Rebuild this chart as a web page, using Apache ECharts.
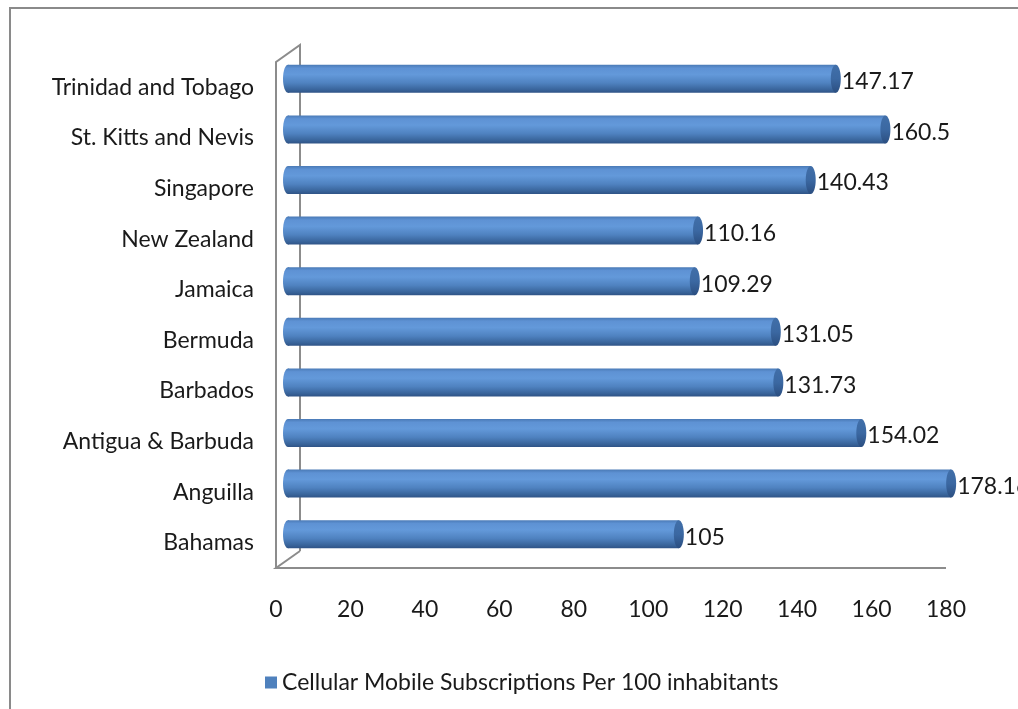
<!DOCTYPE html>
<html>
<head>
<meta charset="utf-8">
<script src="https://cdn.jsdelivr.net/npm/echarts@6/dist/echarts.min.js"></script>
<style>
  html, body { margin: 0; padding: 0; background: #fff; }
  #chart { width: 1018px; height: 709px; }
</style>
</head>
<body>
<div id="chart"></div>
<script>
// Countries, bottom to top
const countries = [
  'Bahamas', 'Anguilla', 'Antigua & Barbuda', 'Barbados', 'Bermuda',
  'Jamaica', 'New Zealand', 'Singapore', 'St. Kitts and Nevis', 'Trinidad and Tobago'
];
// Cellular mobile subscriptions per 100 inhabitants
const subscriptions = [105, 178.16, 154.02, 131.73, 131.05, 109.29, 110.16, 140.43, 160.5, 147.17];
const seriesName = 'Cellular Mobile Subscriptions Per 100 inhabitants';
const xTicks = { min: 0, max: 180, interval: 20 };

const FONT = 'Lato';
const FONT_SIZE = 23;
const TEXT_COLOR = '#1a1a1a';
const DEPTH_X = 24, DEPTH_Y = -17;   // offset of the back wall from the front plane
const BAR_H = 28;
const CAP_RX = 5;

const bodyGradient = new echarts.graphic.LinearGradient(0, 0, 0, 1, [
  { offset: 0, color: '#4a7ab6' },
  { offset: 0.12, color: '#5e92d4' },
  { offset: 0.35, color: '#6399da' },
  { offset: 0.65, color: '#4f82c0' },
  { offset: 0.9, color: '#386399' },
  { offset: 1, color: '#2f5386' }
]);
const capGradient = new echarts.graphic.LinearGradient(0, 0, 0, 1, [
  { offset: 0, color: '#416fa9' },
  { offset: 0.5, color: '#3b68a2' },
  { offset: 1, color: '#2b4e80' }
]);

function renderBar(params, api) {
  const cat = api.value(0);
  const val = api.value(1);
  const p0 = api.coord([0, cat]);
  const p1 = api.coord([val, cat]);
  const dx = DEPTH_X / 2, dy = DEPTH_Y / 2;
  const x0 = p0[0] + dx, x1 = p1[0] + dx, cy = p0[1] + dy;
  const children = [];

  if (params.dataIndex === 0) {
    // 3D frame: front/back left walls and front floor edge
    const cs = params.coordSys;
    const L = cs.x, T = cs.y, B = cs.y + cs.height, R = cs.x + cs.width;
    const ls = { stroke: '#8c8c8c', lineWidth: 2, fill: null };
    children.push(
      { type: 'polyline', shape: { points: [[L + DEPTH_X, B + DEPTH_Y], [L, B], [R, B]] }, style: ls, silent: true },
      { type: 'polyline', shape: { points: [[L, B], [L, T], [L + DEPTH_X, T + DEPTH_Y], [L + DEPTH_X, B + DEPTH_Y]] }, style: ls, silent: true }
    );
  }

  children.push(
    { type: 'ellipse', shape: { cx: x0, cy: cy, rx: CAP_RX, ry: BAR_H / 2 }, style: { fill: bodyGradient } },
    { type: 'rect', shape: { x: x0, y: cy - BAR_H / 2, width: x1 - x0, height: BAR_H }, style: { fill: bodyGradient } },
    { type: 'ellipse', shape: { cx: x1, cy: cy, rx: CAP_RX, ry: BAR_H / 2 }, style: { fill: capGradient } },
    {
      type: 'text',
      style: {
        x: x1 + 6, y: cy + 3, text: String(val),
        font: FONT_SIZE + 'px "' + FONT + '"', fill: TEXT_COLOR,
        align: 'left', verticalAlign: 'middle'
      }
    }
  );
  return { type: 'group', children: children };
}

const chart = echarts.init(document.getElementById('chart'));
chart.setOption({
  animation: false,
  backgroundColor: '#ffffff',
  textStyle: { fontFamily: FONT },
  graphic: [{
    type: 'polyline',
    shape: { points: [[10, 720], [10, 8], [1030, 8]] },
    style: { fill: null, stroke: '#8a8a8a', lineWidth: 2 },
    silent: true
  }],
  legend: {
    left: 260, top: 666,
    icon: 'rect', itemWidth: 12, itemHeight: 12, itemGap: 8,
    textStyle: { fontSize: FONT_SIZE, color: TEXT_COLOR, fontFamily: FONT },
    data: [seriesName]
  },
  grid: { left: 276, right: 72, top: 62, bottom: 141, containLabel: false },
  xAxis: {
    type: 'value', min: xTicks.min, max: xTicks.max, interval: xTicks.interval,
    axisLine: { show: false }, axisTick: { show: false }, splitLine: { show: false },
    axisLabel: { fontSize: FONT_SIZE, color: TEXT_COLOR, margin: 30, fontFamily: FONT }
  },
  yAxis: {
    type: 'category', data: countries,
    axisLine: { show: false }, axisTick: { show: false }, splitLine: { show: false },
    axisLabel: { fontSize: FONT_SIZE, color: TEXT_COLOR, margin: 22, fontFamily: FONT,
      padding: [9, 0, 0, 0] }
  },
  series: [{
    name: seriesName,
    type: 'custom',
    itemStyle: { color: '#4F81BD' },
    renderItem: renderBar,
    encode: { x: 1, y: 0 },
    data: subscriptions.map((v, i) => [i, v])
  }]
});
</script>
</body>
</html>
